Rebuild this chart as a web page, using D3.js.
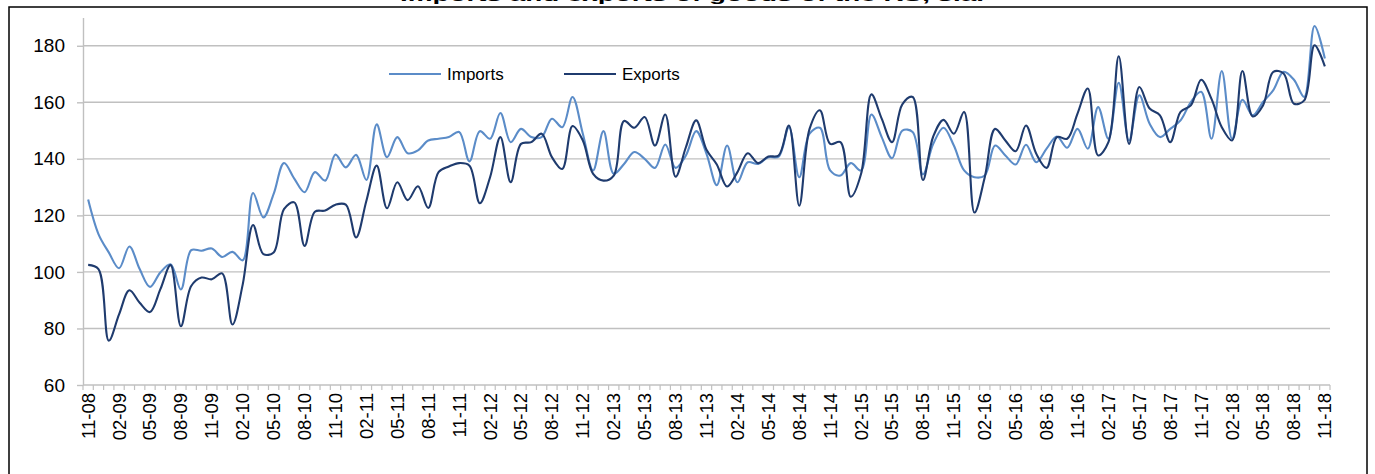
<!DOCTYPE html>
<html>
<head>
<meta charset="utf-8">
<script src="https://cdn.jsdelivr.net/npm/d3@7"></script>
<style>
  body { margin: 0; background: #fff; }
  svg { display: block; font-family: Arial, "Liberation Sans", sans-serif; }
</style>
</head>
<body>
<svg id="chart" width="1375" height="474"></svg>
<script>
// monthly index values, 11-08 .. 11-18
const importsData = [
  125.6, 113.4, 106.9, 101.3, 109, 101, 94.7, 99.8, 102.7, 93.8,
  107.7, 107.5, 108.3, 105.3, 107.1, 104.1, 127.9, 119.3, 127.6, 138.5,
  133, 128.2, 135.3, 132.3, 141.5, 137, 141.4, 132.5, 152.2, 140.6,
  147.7, 142, 143, 146.5, 147.1, 147.7, 149.5, 139.1, 149.8, 147.1,
  156.2, 145.9, 150.6, 147.7, 147.7, 154.2, 151.2, 161.9, 148.9, 135.9,
  149.8, 134.7, 138.2, 142.4, 140, 136.8, 145.1, 136.8, 141.2, 149.8,
  141.8, 130.7, 144.7, 131.7, 138.8, 138.2, 140.6, 140.8, 151.2, 133.5,
  148.9, 151, 135.9, 134.1, 138.5, 135.9, 155.7, 147.7, 140.2, 150,
  149.5, 134.5, 145.3, 151, 144.7, 135.9, 133.5, 134.1, 144.7, 141.2,
  138, 145, 138.8, 143.6, 147.9, 143.9, 150.6, 143.6, 158.3, 147.1,
  166.9, 146.5, 162.5, 152.4, 147.7, 150.6, 153.6, 160.1, 163.7, 147.1,
  171.1, 147.1, 160.9, 155.4, 160.1, 164.3, 170.8, 168, 161.9, 187,
  175.5
];
const exportsData = [
  102.5, 101, 75.7, 85, 93.5, 89.1, 85.8, 93.8, 102.4, 80.8,
  95, 98, 97.4, 99.5, 81.4, 95.6, 116.6, 106.3, 106.9, 122.2,
  124.6, 109.2, 121.3, 121.7, 123.8, 123.8, 112.2, 125.2, 137.6, 122.5,
  131.7, 125.4, 130.3, 122.6, 135.3, 137.3, 138.5, 137.6, 124.3, 133.5,
  147.7, 131.7, 145.3, 145.9, 148.9, 140.6, 136.4, 151.6, 146.5, 134.7,
  132.3, 134.1, 153.4, 151, 154.8, 144.7, 155.7, 133.7, 144.1, 153.6,
  143.2, 138, 130.2, 135.3, 142, 138.5, 140.8, 141.2, 151.8, 123.4,
  150.6, 157.2, 145.3, 145.9, 126.6, 134.7, 162.8, 154.2, 145.9, 159.3,
  161.9, 132.5, 147.9, 153.8, 148.9, 156.6, 121, 133.5, 150.6, 146.5,
  142.7, 151.8, 141.8, 136.8, 147.7, 147.1, 156, 164.9, 141.2, 145.9,
  176.3, 145.3, 165.4, 157.8, 155.4, 145.9, 156.6, 158.9, 168, 161.2,
  151.2, 146.5, 171.1, 155, 158.9, 170.8, 170.2, 159.5, 160.7, 180.2,
  172.7
];
const months = d3.utcMonths(new Date(Date.UTC(2008, 10, 1)), new Date(Date.UTC(2018, 11, 1)))
  .map(d3.utcFormat("%m-%y"));
const yTicks = [60, 80, 100, 120, 140, 160, 180];
const seriesNames = ["Imports", "Exports"];
const seriesColors = ["#5b8cc8", "#1f3b6e"];
const titleText = "Imports and exports of goods of the RS, s.a.";

const svg = d3.select("#chart");
const plotLeft = 83, plotRight = 1330, plotTop = 17.5, plotBottom = 385;
const gridColor = "#c0c0c0";

svg.append("rect").attr("width", 1375).attr("height", 474).attr("fill", "#fff");

// outer frame (bottom edge falls off the picture)
svg.append("rect")
  .attr("x", 9).attr("y", 7).attr("width", 1358).attr("height", 490)
  .attr("fill", "none").attr("stroke", "#000").attr("stroke-width", 1.5);

// title, mostly cut off above the frame as in the source
svg.append("text")
  .attr("x", 692).attr("y", 0.5)
  .attr("text-anchor", "middle")
  .attr("textLength", 584).attr("lengthAdjust", "spacingAndGlyphs")
  .style("font-size", "17px").style("font-weight", "bold")
  .text(titleText);

const x = d3.scaleBand().domain(months).range([plotLeft, plotRight]).paddingInner(0).paddingOuter(0);
const y = d3.scaleLinear().domain([60, 190]).range([plotBottom, plotTop]);
const cx = d => x(d) + x.bandwidth() / 2;

// gridlines
svg.append("g").selectAll("line")
  .data(yTicks.slice(1))
  .enter().append("line")
  .attr("x1", plotLeft).attr("x2", plotRight)
  .attr("y1", d => y(d)).attr("y2", d => y(d))
  .attr("stroke", gridColor).attr("stroke-width", 1.4);

// y axis
const yAxis = svg.append("g")
  .attr("transform", `translate(${plotLeft},0)`)
  .call(d3.axisLeft(y).tickValues(yTicks).tickSize(6).tickPadding(12).tickSizeOuter(0));
yAxis.select(".domain").attr("stroke", gridColor).attr("stroke-width", 1.4);
yAxis.selectAll(".tick line").attr("stroke", gridColor).attr("stroke-width", 1.4);
yAxis.selectAll(".tick text")
  .attr("fill", "#000").style("font-size", "19px").style("font-family", "Arial, 'Liberation Sans', sans-serif");

// x axis: ticks at every month boundary
const xg = svg.append("g");
xg.append("line")
  .attr("x1", plotLeft).attr("x2", plotRight).attr("y1", plotBottom).attr("y2", plotBottom)
  .attr("stroke", gridColor).attr("stroke-width", 1.4);
xg.selectAll("line.tk")
  .data(months.concat(["end"]))
  .enter().append("line")
  .attr("class", "tk")
  .attr("x1", (d, i) => plotLeft + i * x.bandwidth())
  .attr("x2", (d, i) => plotLeft + i * x.bandwidth())
  .attr("y1", plotBottom).attr("y2", plotBottom + 5)
  .attr("stroke", gridColor).attr("stroke-width", 1.2);
xg.selectAll("text")
  .data(months.filter((d, i) => i % 3 === 0))
  .enter().append("text")
  .attr("transform", d => `translate(${cx(d)},${plotBottom + 8}) rotate(-90)`)
  .attr("text-anchor", "end")
  .attr("dy", "0.35em")
  .style("font-size", "18.5px")
  .text(d => d);

// lines
const line = d3.line()
  .x((d, i) => cx(months[i]))
  .y(d => y(d))
  .curve(d3.curveCatmullRom.alpha(0.5));

[importsData, exportsData].forEach((data, k) => {
  svg.append("path")
    .datum(data)
    .attr("fill", "none")
    .attr("stroke", seriesColors[k])
    .attr("stroke-width", 2.1)
    .attr("d", line);
});

// legend
const legendX = [389, 564];
const legend = svg.append("g");
seriesNames.forEach((name, k) => {
  legend.append("line")
    .attr("x1", legendX[k]).attr("x2", legendX[k] + 52)
    .attr("y1", 74).attr("y2", 74)
    .attr("stroke", seriesColors[k]).attr("stroke-width", 2.1);
  legend.append("text")
    .attr("x", legendX[k] + 58).attr("y", 74)
    .attr("dy", "0.35em")
    .style("font-size", "17px")
    .text(name);
});
</script>
</body>
</html>
